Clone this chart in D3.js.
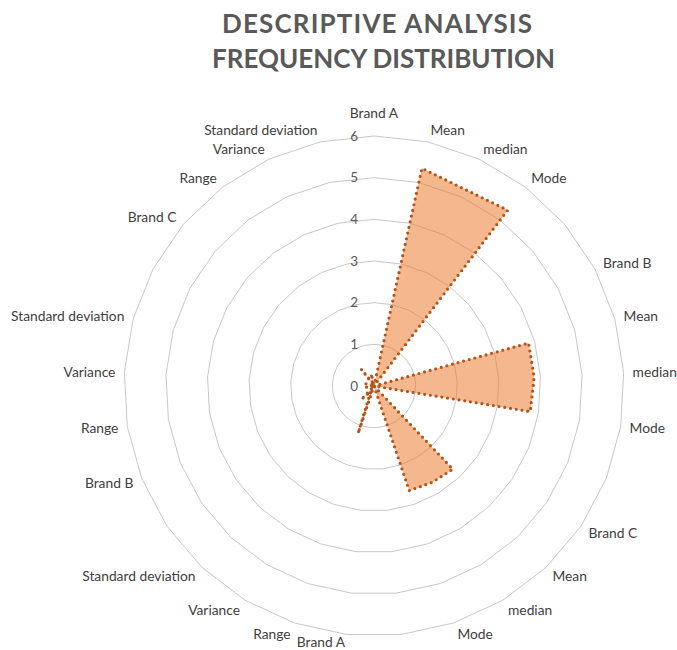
<!DOCTYPE html>
<html>
<head>
<meta charset="utf-8">
<script src="https://cdn.jsdelivr.net/npm/d3@7"></script>
<style>
  body { margin: 0; background: #ffffff; }
  svg { display: block; }
</style>
</head>
<body>
<svg id="chart" width="677" height="650"></svg>
<script>
// Radar categories (blank entries separate the brand groups)
const categories = [
  "Brand A", "Mean", "median", "Mode", "",
  "Brand B", "Mean", "median", "Mode", "",
  "Brand C", "Mean", "median", "Mode", "",
  "Brand A", "Range", "Variance", "Standard deviation", "",
  "Brand B", "Range", "Variance", "Standard deviation", "",
  "Brand C", "Range", "Variance", "Standard deviation"
];
const values = [
  0, 5.35, 5.2, 5.3, 0,
  0, 3.85, 3.85, 3.8, 0,
  0, 2.75, 2.7, 2.65, 0,
  0, 1.2, 0.15, 0.45, 0,
  0, 0.25, 0.05, 0.2, 0,
  0, 0.5, 0.1, 0.3
];
const tickValues = [0, 1, 2, 3, 4, 5, 6];
const titleLines = ["DESCRIPTIVE ANALYSIS", "FREQUENCY DISTRIBUTION"];

const svg = d3.select("#chart");
const W = 677, H = 650;
const cx = 374, cy = 386, outerR = 250;
const N = categories.length;

const r = d3.scaleLinear().domain([0, 6]).range([0, outerR]);
const angle = d3.scaleLinear().domain([0, N]).range([0, 2 * Math.PI]);

// Title
svg.append("g").selectAll("text")
  .data(titleLines)
  .join("text")
  .attr("x", (d, i) => i === 0 ? 222 : 212)
  .attr("y", (d, i) => i === 0 ? 33 : 68)
  .attr("textLength", (d, i) => i === 0 ? 310 : 343)
  .attr("lengthAdjust", "spacing")
  .attr("font-family", "Lato, 'Open Sans', sans-serif")
  .attr("font-weight", "bold")
  .attr("font-size", 26)
  .attr("fill", "#595959")
  .text(d => d);

const plot = svg.append("g").attr("transform", `translate(${cx},${cy})`);

// Polygonal gridlines
const ringLine = d3.lineRadial()
  .angle((d, i) => angle(i))
  .radius(d => r(d))
  .curve(d3.curveLinearClosed);

plot.append("g").selectAll("path")
  .data(tickValues.filter(v => v > 0))
  .join("path")
  .attr("d", v => ringLine(categories.map(() => v)))
  .attr("fill", "none")
  .attr("stroke", "#c8c8c8")
  .attr("stroke-width", 1);

// Series area
const area = d3.lineRadial()
  .angle((d, i) => angle(i))
  .radius(d => r(d))
  .curve(d3.curveLinearClosed);

plot.append("path")
  .datum(values)
  .attr("d", area)
  .attr("fill", "#ED7D31")
  .attr("fill-opacity", 0.55)
  .attr("stroke", "#B5541A")
  .attr("stroke-width", 3.2)
  .attr("stroke-linecap", "round")
  .attr("stroke-linejoin", "round")
  .attr("stroke-dasharray", "0 5.8");

// Value axis tick labels
plot.append("g").selectAll("text")
  .data(tickValues)
  .join("text")
  .attr("x", -16)
  .attr("y", v => -r(v))
  .attr("dy", "0.35em")
  .attr("text-anchor", "end")
  .attr("font-family", "Lato, 'Open Sans', sans-serif")
  .attr("font-size", 13.5)
  .attr("fill", "#595959")
  .text(v => v);

// Category labels
const labelR = 258;
const fontSize = 13.8;
const maxY = H - cy - fontSize * 0.55;
plot.append("g").selectAll("text")
  .data(categories.map((c, i) => ({ c, i })).filter(d => d.c !== ""))
  .join("text")
  .each(function (d) {
    const a = angle(d.i);
    const s = Math.sin(a), co = Math.cos(a);
    const t = d3.select(this);
    if (Math.abs(s) < 0.05) {
      t.attr("x", 0).attr("y", -labelR - 15 * co).attr("text-anchor", "middle");
    } else {
      t.attr("x", labelR * s + (s > 0 ? 1 : -1))
       .attr("y", Math.min(-labelR * co - 3.5 * co, maxY))
       .attr("text-anchor", s > 0 ? "start" : "end");
    }
  })
  .attr("dy", "0.35em")
  .attr("font-family", "Lato, 'Open Sans', sans-serif")
  .attr("font-size", fontSize)
  .attr("fill", "#404040")
  .text(d => d.c);
</script>
</body>
</html>
